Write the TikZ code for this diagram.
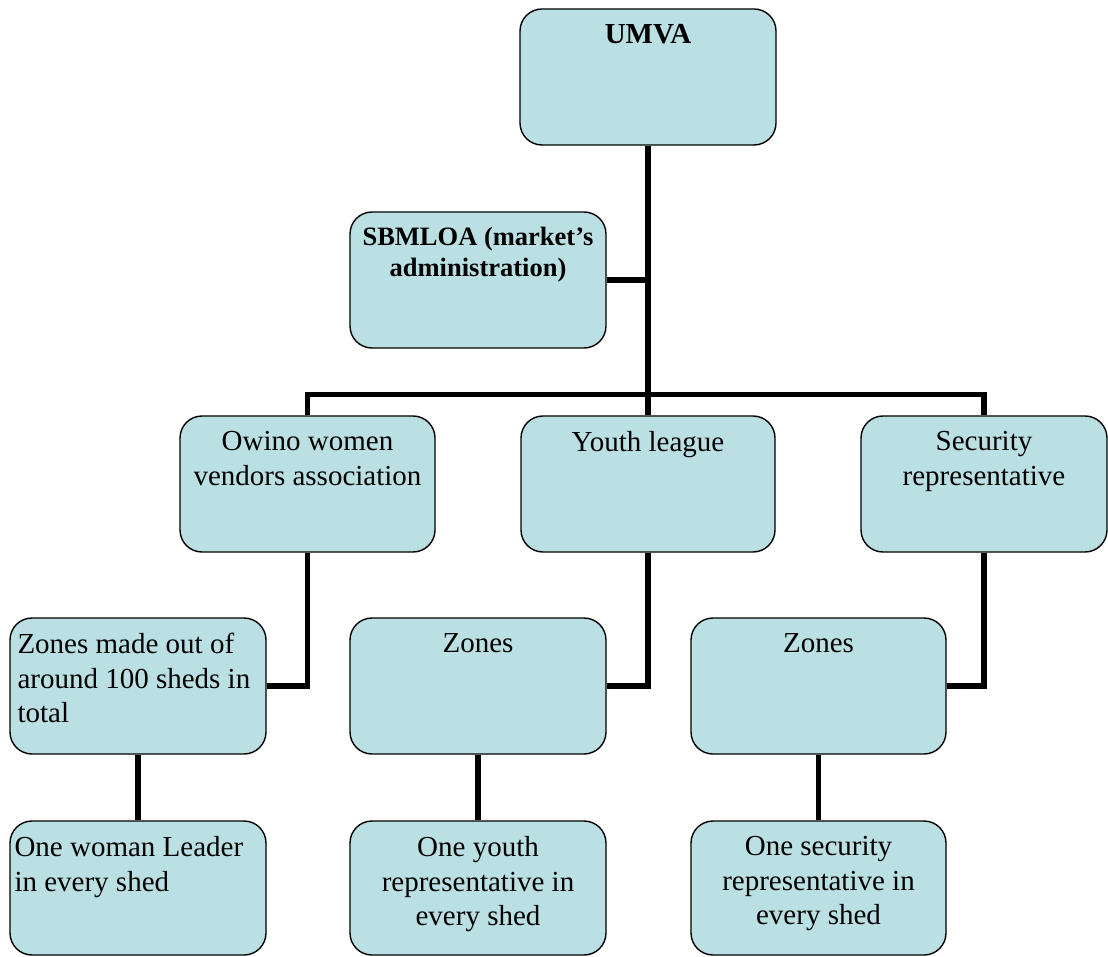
\documentclass[tikz,border=0pt]{standalone}
\usepackage{fontspec}
\setmainfont{Liberation Serif}
\usepackage{xcolor}
\usepackage{tikz}
\usetikzlibrary{positioning}
\definecolor{boxblue}{RGB}{187,224,227}

\begin{document}
\begin{tikzpicture}[x=1pt,y=-1pt,
		box/.style={draw,line width=1.4pt,fill=boxblue,rounded corners=22pt,minimum width=256pt,minimum height=136pt,inner sep=0pt},
		lbl/.style={align=center,inner sep=0pt,font=\fontsize{29}{34.5}\selectfont},
		lbll/.style={lbl,align=left},
		link/.style={line width=5.5pt}]
		\useasboundingbox (0,0) rectangle (1108,957);
		% boxes
		\node[box] (umva) at (648,77) {};
		\node[box] (sbm) at (478,280) {};
		\node[box,minimum width=255pt] (owino) at (307.5,484) {};
		\node[box,minimum width=254pt] (youth) at (648,484) {};
		\node[box,minimum width=246pt] (sec) at (984,484) {};
		\node[box] (zonesl) at (138,686) {};
		\node[box] (zonesm) at (478,686) {};
		\node[box,minimum width=255pt] (zonesr) at (818.5,686) {};
		\node[box,minimum height=134pt] (onel) at (138,888) {};
		\node[box,minimum height=134pt] (onem) at (478,888) {};
		\node[box,minimum width=255pt,minimum height=134pt] (oner) at (818.5,888) {};
		% texts
		\node[lbl,below=16pt of umva.north] (umvatxt) {\textbf{UMVA}};
		\node[lbl,font=\fontsize{26.5}{31}\selectfont,below=16pt of sbm.north] (sbmtxt) {\textbf{SBMLOA (market’s}\\\textbf{administration)}};
		\node[lbl,below=16pt of owino.north] (owinotxt) {Owino women\\vendors association};
		\node[lbl,below=16pt of youth.north] (youthtxt) {Youth league};
		\node[lbl,below=16pt of sec.north] (sectxt) {Security\\representative};
		\node[lbll,below right=16pt and 8pt of zonesl.north west] (zoneltxt) {Zones made out of\\around 100 sheds in\\total};
		\node[lbl,below=16pt of zonesm.north] (zonemtxt) {Zones};
		\node[lbl,below=16pt of zonesr.north] (zonertxt) {Zones};
		\node[lbll,below right=16pt and 5pt of onel.north west] (oneltxt) {One woman Leader\\in every shed};
		\node[lbl,below=16pt of onem.north] (onemtxt) {One youth\\representative in\\every shed};
		\node[lbl,below=16pt of oner.north] (onertxt) {One security\\representative in\\every shed};
		% links
		\draw[link] (umva.south) -- (youth.north);
		\draw[link] (sbm.east) -- (sbm.east -| umva.south);
		\draw[link] (owino.north) -- ++(0,-21) -| (sec.north);
		\draw[link] (owino.south) |- (zonesl.east);
		\draw[link] (youth.south) |- (zonesm.east);
		\draw[link] (sec.south) |- (zonesr.east);
		\draw[link] (zonesl.south) -- (onel.north);
		\draw[link] (zonesm.south) -- (onem.north);
		\draw[link] (zonesr.south) -- (oner.north);
	\end{tikzpicture}
\end{document}
